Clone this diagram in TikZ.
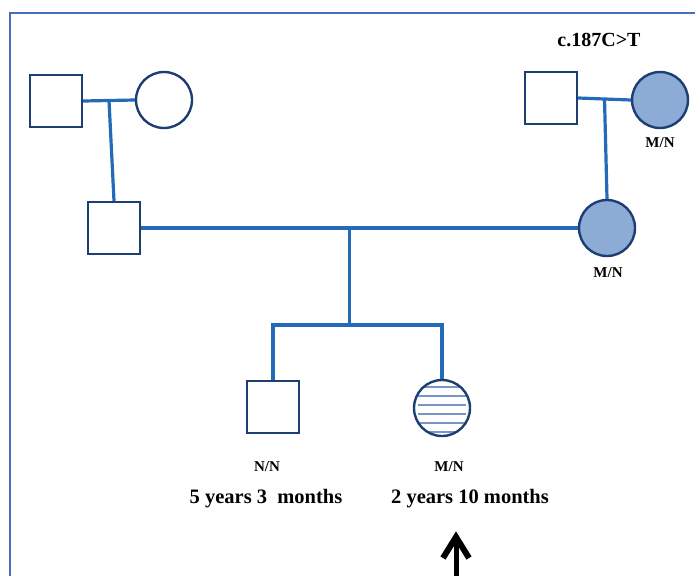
\documentclass[tikz,border=0pt]{standalone}
\usepackage{fontspec}
\setmainfont{Liberation Serif}
\usepackage{tikz}
\usetikzlibrary{arrows.meta, positioning, calc}
\definecolor{pedline}{RGB}{36, 106, 184}
\definecolor{pedborder}{RGB}{28, 62, 115}
\definecolor{carrierfill}{RGB}{140, 172, 214}
\definecolor{hatchline}{RGB}{120, 150, 195}
\definecolor{framecol}{RGB}{70, 110, 190}

\begin{document}
\begin{tikzpicture}[x=1pt, y=-1pt,
    male/.style={draw=pedborder, line width=2.4pt, minimum size=52pt, inner sep=0pt},
    female/.style={circle, draw=pedborder, line width=2.4pt, minimum size=56pt, inner sep=0pt},
    carrier/.style={female, fill=carrierfill},
    hatched/.style={female, path picture={
        \foreach \dy in {-21,-12,-3,6,15,24}
            \draw[hatchline, line width=1.3pt] ($(path picture bounding box.center)+(-24,\dy)$) -- ++(48,0);
    }},
    link/.style={pedline, line width=3.2pt},
    genotype/.style={font=\bfseries\fontsize{15}{17}\selectfont},
    age/.style={font=\bfseries\fontsize{20.5}{24}\selectfont}]
    \useasboundingbox (0,0) rectangle (695,576);
    % frame
    \draw[framecol, line width=1.5pt] (10,576) -- (10,13) -- (695,13);
    % grandparents
    \node[male] (gfp) at (56,101) {};
    \node[female] (gmp) at (164,100) {};
    \node[male] (gfm) at (551,98) {};
    \node[carrier] (gmm) at (660,100) {};
    \node[font=\bfseries\fontsize{20}{24}\selectfont] (variant) at (599,40) {c.187C>T};
    \node[genotype] (gmmgt) at (660,143) {M/N};
    % parents
    \node[male] (fa) at (114,228) {};
    \node[carrier] (mo) at (607,228) {};
    \node[genotype] (mogt) at (608,273) {M/N};
    % children
    \node[male] (son) at (273,407) {};
    \node[hatched] (dau) at (442,408) {};
    \node[genotype] (songt) at (267,467) {N/N};
    \node[genotype] (daugt) at (449,467) {M/N};
    \node[age] (sonage) at (266,499) {5 years 3\ \ months};
    \node[age] (dauage) at (470,499) {2 years 10 months};
    % connectors
    \draw[link] (gfp.east) -- (gmp.west) coordinate[pos=0.5] (mp);
    \draw[link] (mp) -- (fa.north);
    \draw[link] (gfm.east) -- (gmm.west) coordinate[pos=0.5] (mm);
    \draw[link] (mm) -- (mo.north);
    \draw[link] (fa.east) -- (mo.west) coordinate[pos=0.477] (mf);
    \coordinate (sib) at ($(mf)+(0,97)$);
    \draw[link] (mf) -- (sib);
    \draw[link] (son.north) |- (sib) -| (dau.north);
    % proband arrow
    \coordinate (pb) at (456,576);
    \coordinate (pbtip) at (456,537);
    \draw[line width=5pt] (pb) -- (pbtip);
    \draw[line width=6pt, line join=miter, miter limit=10] ($(pbtip)+(-13,21)$) -- (pbtip) -- ($(pbtip)+(13,21)$);
\end{tikzpicture}
\end{document}
